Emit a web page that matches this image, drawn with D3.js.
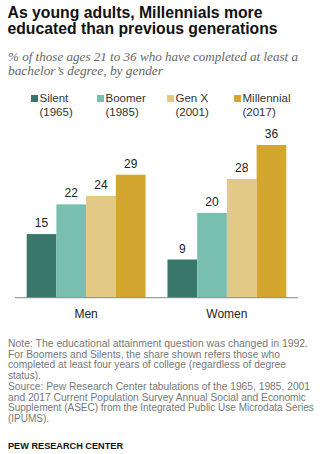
<!DOCTYPE html>
<html><head><meta charset="utf-8">
<script src="https://cdn.jsdelivr.net/npm/d3@7"></script>
<style>
body{margin:0;background:#fff;}
svg{display:block;}
</style></head>
<body>
<script>
const categories = ["Men", "Women"];
const generations = ["Silent", "Boomer", "Gen X", "Millennial"];
const years = ["(1965)", "(1985)", "(2001)", "(2017)"];
const silent = [15, 9];
const boomer = [22, 20];
const genx = [24, 28];
const millennial = [29, 36];
const colors = ["#39776a", "#78bfb0", "#e2c986", "#d3a630"];

const series = [silent, boomer, genx, millennial];
const W = 324, H = 454;
const svg = d3.select("body").append("svg").attr("width", W).attr("height", H);

function fit(tspan, len) {
  const natural = tspan.node().getComputedTextLength();
  if (len && Math.abs(natural - len) > 2) tspan.attr("textLength", len).attr("lengthAdjust", "spacingAndGlyphs");
}

// Title
const titleLines = [["As young adults, Millennials more", 255], ["educated than previous generations", 270]];
const title = svg.append("text").attr("font-family", "Liberation Sans, Arial, sans-serif")
  .attr("font-weight", "bold").attr("font-size", 16).attr("fill", "#111");
titleLines.forEach((t, i) => fit(title.append("tspan").attr("x", 7.5).attr("y", 17.5 + i * 16.5).text(t[0]), t[1]));

const subLines = [["% of those ages 21 to 36 who have completed at least a", 290], ["bachelor\u2019s degree, by gender", 155]];
const sub = svg.append("text").attr("font-family", "Liberation Serif, Georgia, serif")
  .attr("font-style", "italic").attr("font-size", 12.5).attr("fill", "#666");
subLines.forEach((t, i) => fit(sub.append("tspan").attr("x", 8).attr("y", 61 + i * 13.5).text(t[0]), t[1]));

// Scales
const x0 = d3.scaleBand().domain(categories).range([15, 298]).paddingInner(0.156).paddingOuter(0.083);
const x1 = d3.scaleBand().domain(generations).range([0, x0.bandwidth()]);
const y = d3.scaleLinear().domain([0, 36]).range([297.7, 145]);

// Legend
const legendX = [31, 97, 167, 234];
const lg = svg.append("g").attr("font-family", "Liberation Sans, Arial, sans-serif").attr("font-size", 11.5).attr("fill", "#333");
generations.forEach((g, i) => {
  lg.append("rect").attr("x", legendX[i]).attr("y", 95).attr("width", 7).attr("height", 7).attr("fill", colors[i]);
  lg.append("text").attr("x", legendX[i] + 8.5).attr("y", 102).text(g);
  lg.append("text").attr("x", legendX[i] + 8.5).attr("y", 116).text(years[i]);
});

// Bars
const groups = svg.append("g").selectAll("g").data(categories).join("g")
  .attr("transform", d => `translate(${x0(d)},0)`);
groups.each(function(cat, ci) {
  const g = d3.select(this);
  const data = generations.map((gen, gi) => ({gen, gi, v: series[gi][ci]}));
  g.selectAll("rect").data(data).join("rect")
    .attr("x", d => x1(d.gen)).attr("width", x1.bandwidth())
    .attr("y", d => y(d.v)).attr("height", d => y(0) - y(d.v))
    .attr("fill", d => colors[d.gi]);
  g.selectAll("text").data(data).join("text")
    .attr("x", d => x1(d.gen) + x1.bandwidth() / 2).attr("y", d => y(d.v) - 7)
    .attr("text-anchor", "middle").attr("font-family", "Liberation Sans, Arial, sans-serif")
    .attr("font-size", 12).attr("fill", "#222").text(d => d.v);
});

// Axis
const axis = svg.append("g").attr("transform", `translate(0,${y(0)})`)
  .call(d3.axisBottom(x0).tickSize(0).tickPadding(12));
axis.select(".domain").attr("stroke", "#888").attr("d", "M15,0H298");
axis.selectAll("text").attr("font-family", "Liberation Sans, Arial, sans-serif").attr("font-size", 12).attr("fill", "#222");

// Notes
const notes = [
  ["Note: The educational attainment question was changed in 1992.", 300],
  ["For Boomers and Silents, the share shown refers those who", 272],
  ["completed at least four years of college (regardless of degree", 278],
  ["status).", 0],
  ["Source: Pew Research Center tabulations of the 1965, 1985, 2001", 302],
  ["and 2017 Current Population Survey Annual Social and Economic", 298],
  ["Supplement (ASEC) from the Integrated Public Use Microdata Series", 307],
  ["(IPUMS).", 0]
];
const nt = svg.append("text").attr("font-family", "Liberation Sans Narrow, Liberation Sans, Arial, sans-serif")
  .attr("font-size", 10).attr("fill", "#777");
notes.forEach((n, i) => fit(nt.append("tspan").attr("x", 8).attr("y", 347 + i * 10.7).text(n[0]), n[1]));

fit(svg.append("text").attr("x", 8).attr("y", 449).attr("font-family", "Liberation Sans, Arial, sans-serif")
  .attr("font-weight", "bold").attr("font-size", 9.5).attr("fill", "#111")
  .text("PEW RESEARCH CENTER"), 115);
</script>
</body></html>
